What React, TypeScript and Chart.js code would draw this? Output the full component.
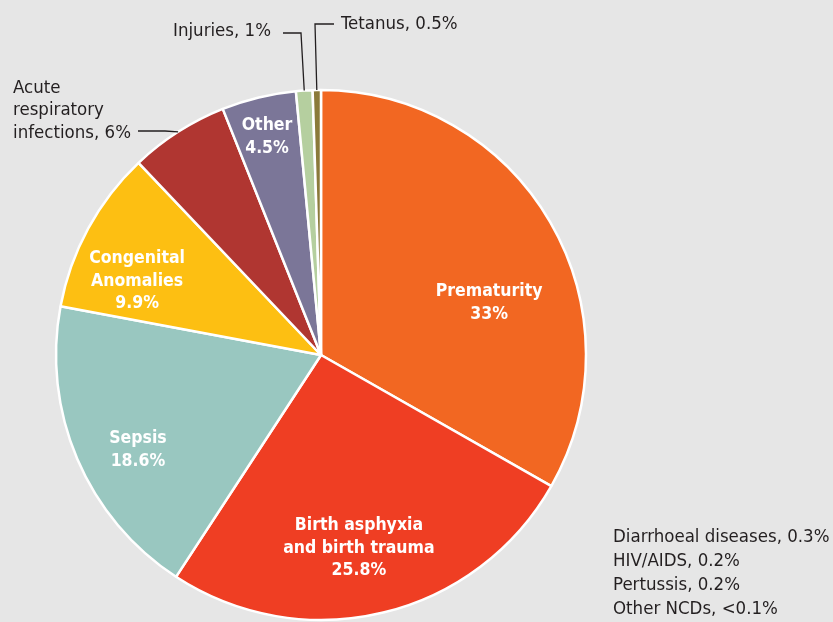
import React, { useEffect, useRef } from "react";
import { Chart, registerables } from "chart.js";

Chart.register(...registerables);

const categories = [
  "Prematurity",
  "Birth asphyxia and birth trauma",
  "Sepsis",
  "Congenital Anomalies",
  "Acute respiratory infections",
  "Other",
  "Injuries",
  "Tetanus",
];
const values = [33, 25.8, 18.6, 9.9, 6, 4.5, 1, 0.5];
const sliceColors = ["#f26722", "#ef3e23", "#99c7c0", "#fdbf12", "#b03631", "#7b7698", "#b5cf9f", "#8b7a3a"];
const insideLabels: (string[] | null)[] = [
  ["Prematurity", "33%"],
  ["Birth asphyxia", "and birth trauma", "25.8%"],
  ["Sepsis", "18.6%"],
  ["Congenital", "Anomalies", "9.9%"],
  null,
  ["Other", "4.5%"],
  null,
  null,
];
const outsideLabels: (string[] | null)[] = [
  null, null, null, null,
  ["Acute", "respiratory", "infections, 6%"],
  null,
  ["Injuries, 1%"],
  ["Tetanus, 0.5%"],
];
const minorCauses = ["Diarrhoeal diseases, 0.3%", "HIV/AIDS, 0.2%", "Pertussis, 0.2%", "Other NCDs, <0.1%"];

// label placement (angle clockwise from top in degrees, fraction of radius)
const insidePlacement: ({ a: number; f: number } | null)[] = [
  { a: 72.8, f: 0.664 },
  { a: 168.9, f: 0.743 },
  { a: 242.6, f: 0.778 },
  { a: 291.9, f: 0.748 },
  null,
  { a: 346.1, f: 0.848 },
  null,
  null,
];
// outside label layout: text anchor, alignment, leader elbow points
const outsidePlacement: any[] = [
  null, null, null, null,
  { x: 13, y: 88, align: "left", line: [[138, 131], [165, 131]] },
  null,
  { x: 271, y: 31, align: "right", line: [[283, 33], [301, 33]] },
  { x: 341, y: 24, align: "left", line: [[334, 24], [315, 24]] },
];
const minorPlacement = { x: 613, y: 537 };

const FONT = "'DejaVu Sans Condensed', 'Liberation Sans Narrow', sans-serif";
const FS = 18.5;
const FSB = 17.5;
const LH = 22.5;

const labelPlugin = {
  id: "customLabels",
  afterDraw(chart: any) {
    const ctx = chart.ctx;
    const meta = chart.getDatasetMeta(0);
    ctx.save();
    meta.data.forEach((arc: any, i: number) => {
      const p = insidePlacement[i];
      const lines = insideLabels[i];
      if (p && lines) {
        const th = ((p.a - 90) * Math.PI) / 180;
        const cx = arc.x + Math.cos(th) * arc.outerRadius * p.f;
        const cy = arc.y + Math.sin(th) * arc.outerRadius * p.f;
        ctx.fillStyle = "#ffffff";
        ctx.font = `bold ${FSB}px ${FONT}`;
        ctx.textAlign = "center";
        ctx.textBaseline = "middle";
        const h = (lines.length - 1) * LH;
        lines.forEach((t, k) => ctx.fillText(t, cx, cy - h / 2 + k * LH));
      }
      const o = outsidePlacement[i];
      const olines = outsideLabels[i];
      if (o && olines) {
        ctx.fillStyle = "#231f20";
        ctx.font = `${FS}px ${FONT}`;
        ctx.textAlign = o.align;
        ctx.textBaseline = "middle";
        olines.forEach((t: string, k: number) => ctx.fillText(t, o.x, o.y + k * LH));
        const mid = (arc.startAngle + arc.endAngle) / 2;
        const ex = arc.x + Math.cos(mid) * arc.outerRadius;
        const ey = arc.y + Math.sin(mid) * arc.outerRadius;
        ctx.strokeStyle = "#231f20";
        ctx.lineWidth = 1.3;
        ctx.beginPath();
        ctx.moveTo(o.line[0][0], o.line[0][1]);
        for (let k = 1; k < o.line.length; k++) ctx.lineTo(o.line[k][0], o.line[k][1]);
        ctx.lineTo(ex, ey);
        ctx.stroke();
      }
    });
    ctx.fillStyle = "#231f20";
    ctx.font = `${FS}px ${FONT}`;
    ctx.textAlign = "left";
    ctx.textBaseline = "middle";
    minorCauses.forEach((t, k) => ctx.fillText(t, minorPlacement.x, minorPlacement.y + k * 24));
    ctx.restore();
  },
};

export default function App() {
  const ref = useRef<HTMLCanvasElement>(null);
  useEffect(() => {
    document.body.style.margin = "0";
    const chart = new Chart(ref.current!, {
      type: "pie",
      data: {
        labels: categories,
        datasets: [
          {
            data: values,
            backgroundColor: sliceColors,
            borderColor: "#ffffff",
            borderWidth: 2.5,
          },
        ],
      },
      options: {
        animation: false,
        responsive: false,
        radius: 265,
        layout: { padding: { left: 56, right: 247, top: 90, bottom: 2 } },
        plugins: { legend: { display: false }, tooltip: { enabled: false } },
      } as any,
      plugins: [labelPlugin],
    });
    return () => chart.destroy();
  }, []);
  return (
    <div style={{ width: 833, height: 622, background: "#e6e6e6", overflow: "hidden" }}>
      <canvas ref={ref} width={833} height={622} style={{ display: "block" }} />
    </div>
  );
}
